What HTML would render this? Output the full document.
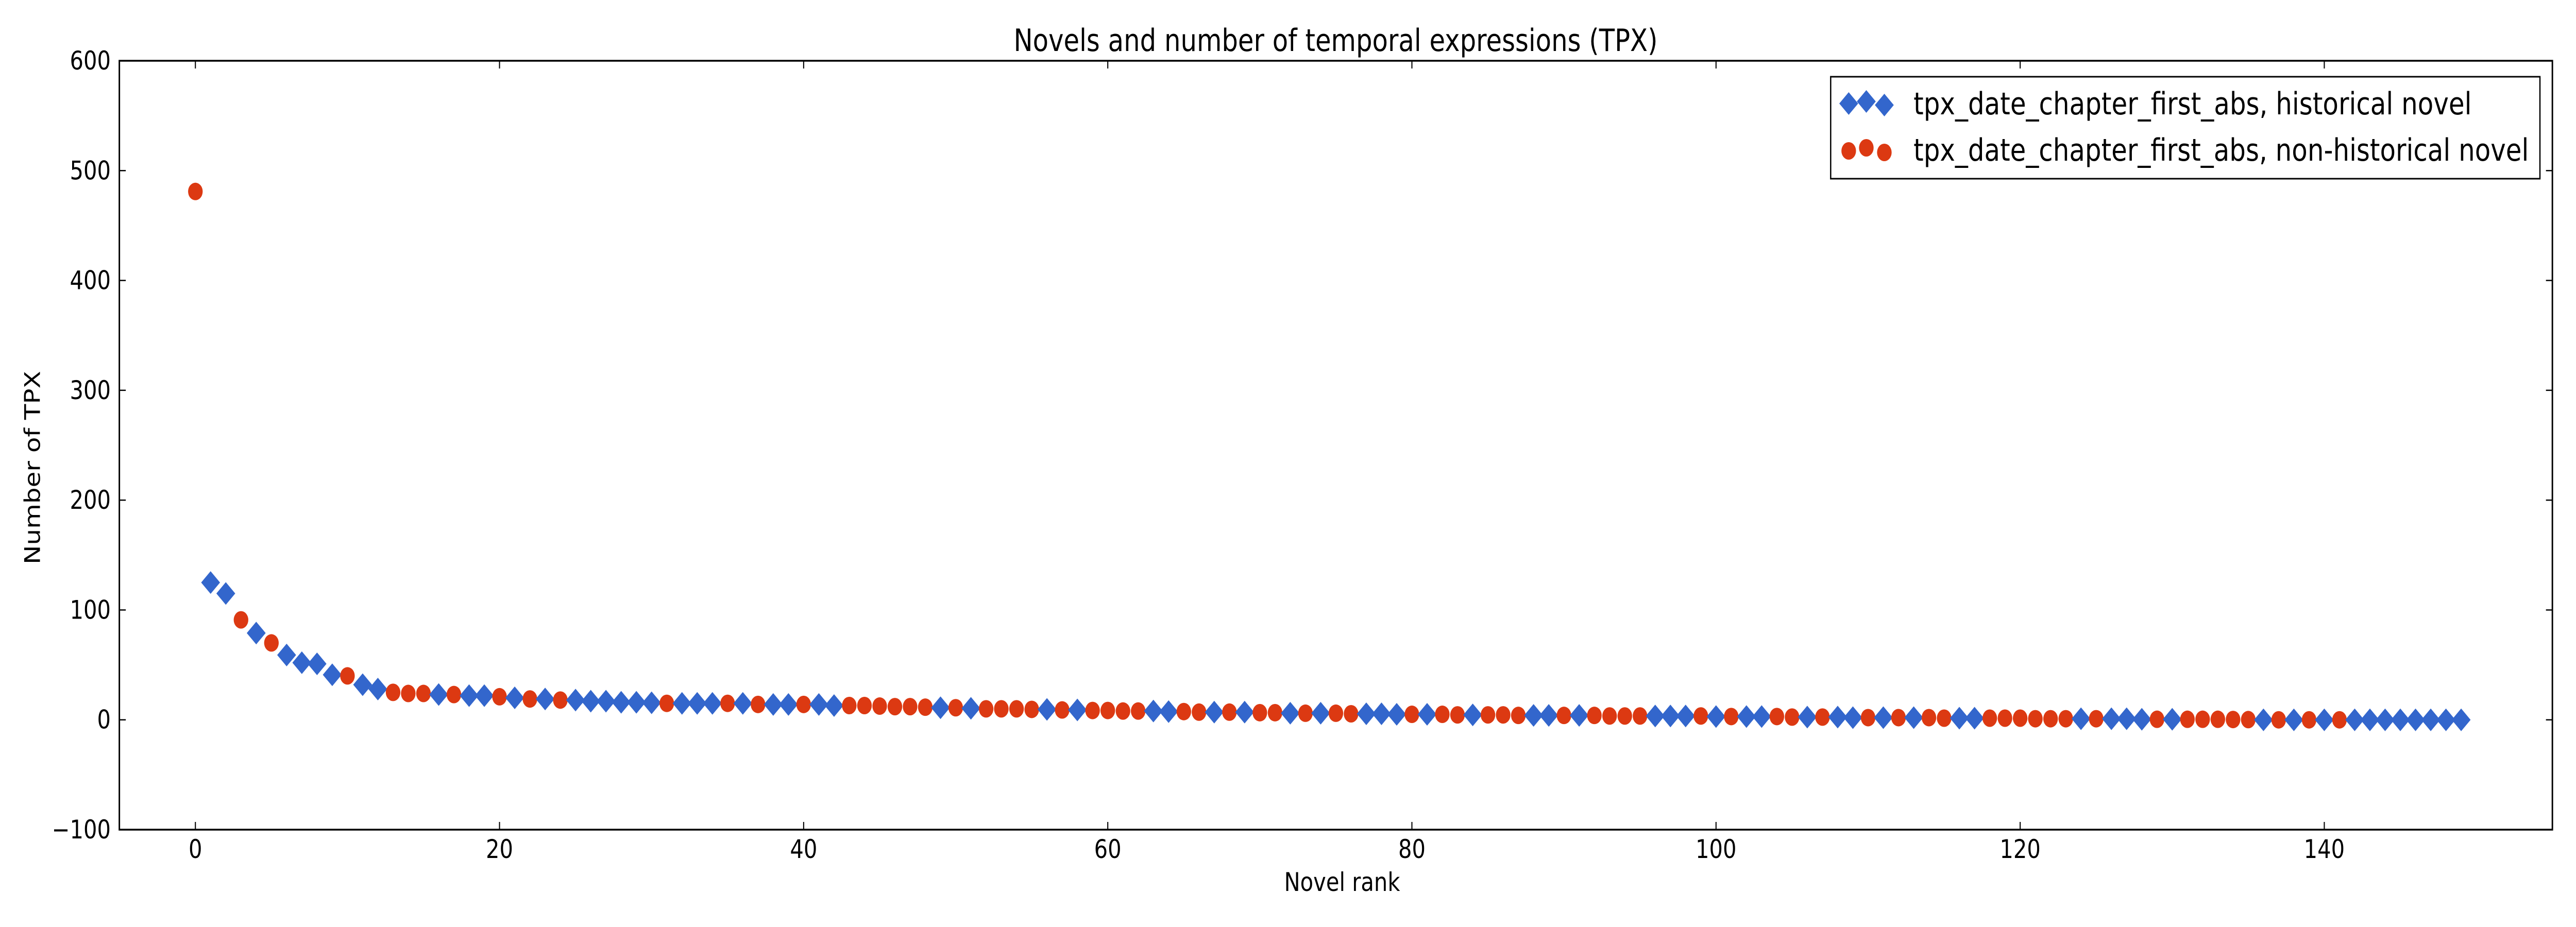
<!DOCTYPE html>
<html><head><meta charset="utf-8">
<style>
html,body{margin:0;padding:0;background:#fff;width:100%;height:100%;overflow:hidden;}
svg{display:block;width:100vw;height:100vh;font-family:"DejaVu Sans","Liberation Sans",sans-serif;}
</style></head>
<body>
<svg id="chart" xmlns="http://www.w3.org/2000/svg" viewBox="0 0 6000 1800" preserveAspectRatio="none">
<rect x="0" y="0" width="6000" height="1800" fill="#fff"/>
<text x="3111" y="99" font-size="60" text-anchor="middle" textLength="1500" lengthAdjust="spacingAndGlyphs">Novels and number of temporal expressions (TPX)</text>
<text x="3126" y="1730" font-size="50" text-anchor="middle">Novel rank</text>
<text transform="translate(93,908) rotate(-90)" font-size="50" text-anchor="middle">Number of TPX</text>
<g id="ticks"></g>
<g id="marks"></g>
<rect x="278" y="118" width="5667" height="1493" fill="none" stroke="#000" stroke-width="3.5"/>
<g id="legend"></g>
</svg>
<script>
// categories: 1 = historical novel, 0 = non-historical novel (index = novel rank)
const hist = [
0,1,1,0,1,0,1,1,1,1,
0,1,1,0,0,0,1,0,1,1,
0,1,0,1,0,1,1,1,1,1,
1,0,1,1,1,0,1,0,1,1,
0,1,1,0,0,0,0,0,0,1,
0,1,0,0,0,0,1,0,1,0,
0,0,0,1,1,0,0,1,0,1,
0,0,1,0,1,0,0,1,1,1,
0,1,0,0,1,0,0,0,1,1,
0,1,0,0,0,0,1,1,1,0,
1,0,1,1,0,0,1,0,1,1,
0,1,0,1,0,0,1,1,0,0,
0,0,0,0,1,0,1,1,1,0,
1,0,0,0,0,0,1,0,1,0,
1,0,1,1,1,1,1,1,1,1];
// values: number of TPX per novel rank
const values = [
481,125,115,91,79,70,59,52,51,41,
40,32,28,25,24,24,23,23,22,22,
21,20,19,19,18,18,17,17,16,16,
15.5,15,15,15,15,15,15,14,14,14,
14,14,13,13,13,12.5,12,12,11.5,11,
11,10.5,10,10,10,9.5,9.5,9,9,8.5,
8.5,8,8,8,7.5,7.5,7,7,7,7,
6.5,6.5,6,6,6,6,5.5,5.5,5.5,5,
5,5,5,4.5,4.5,4.5,4.5,4,4,4,
4,4,4,3.5,3.5,3.5,3.5,3.5,3.5,3.5,
3,3,3,3,3,2.5,2.5,2.5,2.5,2,
2,2,2,2,2,1.5,1.5,1.5,1.5,1.5,
1.5,1,1,1,1,1,1,1,0.5,0.5,
0.5,0.5,0.5,0.5,0.3,0.2,0,0,0,0,
0,0,0,0,0,0,0,0,0,0];
const xTicks = [0,20,40,60,80,100,120,140];
const yTicks = [-100,0,100,200,300,400,500,600];
const yTickLabels = ["\u2212100","0","100","200","300","400","500","600"];

const NS = "http://www.w3.org/2000/svg";
const L=278,R=5945,T=118,B=1611;
const xMin=-5,xMax=155,yMin=-100,yMax=600;
function xs(v){return L+(v-xMin)/(xMax-xMin)*(R-L);}
function ys(v){return B-(v-yMin)/(yMax-yMin)*(B-T);}
function mk(tag,attrs){const e=document.createElementNS(NS,tag);for(const k in attrs)e.setAttribute(k,attrs[k]);return e;}

const tg=document.getElementById('ticks');
xTicks.forEach(t=>{
  const x=xs(t);
  const a=mk('line',{x1:x,y1:B,x2:x,y2:B-15,stroke:'#000','stroke-width':2.5});
  
  
  tg.appendChild(a);
  const b=mk('line',{x1:x,y1:T,x2:x,y2:T+15,stroke:'#000','stroke-width':2.5});
  
  
  tg.appendChild(b);
  const lb=mk('text',{x:x,y:1666,'font-size':50,'text-anchor':'middle'});
  lb.textContent=String(t);
  
  
  tg.appendChild(lb);
});
yTicks.forEach((t,i)=>{
  const y=ys(t);
  const a=mk('line',{x1:L,y1:y,x2:L+15,y2:y,stroke:'#000','stroke-width':2.5});
  
  
  tg.appendChild(a);
  const b=mk('line',{x1:R,y1:y,x2:R-15,y2:y,stroke:'#000','stroke-width':2.5});
  
  
  tg.appendChild(b);
  const lb=mk('text',{x:258,y:y+17,'font-size':50,'text-anchor':'end'});
  lb.textContent=yTickLabels[i];
  
  
  tg.appendChild(lb);
});

const BLUE='#3366cc',RED='#dc3912';
function diamond(cx,cy,h){return mk('polygon',{points:`${cx},${cy-h} ${cx+h},${cy} ${cx},${cy+h} ${cx-h},${cy}`,fill:BLUE});}
function dot(cx,cy,r){return mk('circle',{cx:cx,cy:cy,r:r,fill:RED});}

const mg=document.getElementById('marks');
values.forEach((v,i)=>{
  const cx=xs(i),cy=ys(v);
  let e;
  if(hist[i]){
    e=diamond(cx,cy,22);
    
  }else{
    e=dot(cx,cy,17);
    
  }
  
  mg.appendChild(e);
});

const lg=document.getElementById('legend');
const box=mk('rect',{x:4264,y:149,width:1652,height:198,fill:'#fff',stroke:'#000','stroke-width':3});


lg.appendChild(box);
[[4306,201],[4347,197],[4389,204]].forEach(p=>{
  const d=diamond(p[0],p[1],22);
  
  
  lg.appendChild(d);
});
[[4306,293],[4347,287],[4389,296]].forEach(p=>{
  const c=dot(p[0],p[1],17);
  
  
  lg.appendChild(c);
});
const t1=mk('text',{x:4457,y:222,'font-size':60,textLength:1300,lengthAdjust:'spacingAndGlyphs'});
t1.textContent='tpx_date_chapter_first_abs, historical novel';


lg.appendChild(t1);
const t2=mk('text',{x:4457,y:312,'font-size':60,textLength:1433,lengthAdjust:'spacingAndGlyphs'});
t2.textContent='tpx_date_chapter_first_abs, non-historical novel';


lg.appendChild(t2);
</script>
</body></html>
